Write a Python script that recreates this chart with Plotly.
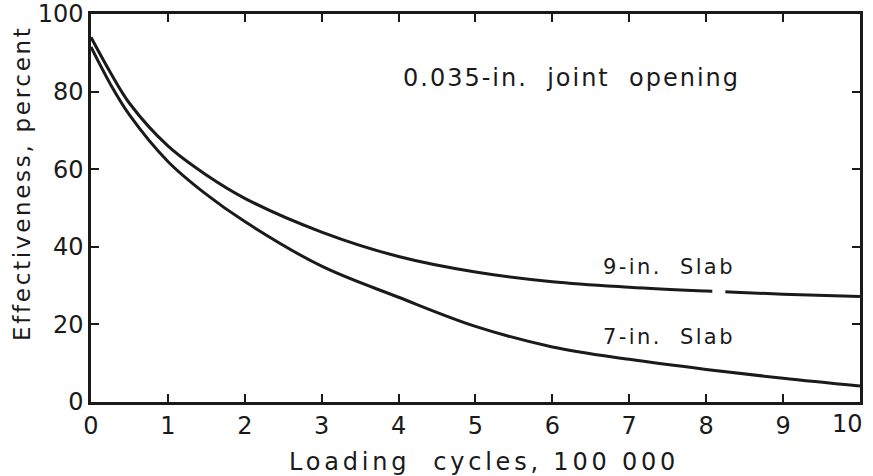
import plotly.graph_objects as go

# Loading cycles (units of 100 000) and effectiveness (percent)
cycles = [0, 0.25, 0.5, 1, 1.5, 2, 3, 4, 5, 6, 7, 8, 9, 10]
slab_9in = [94, 85, 77, 66, 58.5, 52.5, 43.8, 37.5, 33.5, 31, 29.6, 28.6, 27.8, 27.2]
slab_7in = [91.5, 82, 74, 62, 53.5, 46.5, 35, 27, 19.5, 14.2, 11.0, 8.4, 6.1, 4.1]

x_ticks = list(range(0, 11))
y_ticks = [0, 20, 40, 60, 80, 100]

# small break drawn in the 9-in. curve
break_x = [8.08, 8.25]

FONT = "DejaVu Sans"
INK = "#1a1a1a"


def spaced(text, px):
    return f'<span style="letter-spacing:{px}px">{text}</span>'


# the last x label is placed separately, nudged left to stay on the page
x_labels = [str(v) for v in x_ticks]
last_label = x_labels[-1]
x_labels[-1] = ""

fig = go.Figure()
for ys in (slab_9in, slab_7in):
    fig.add_trace(go.Scatter(
        x=cycles, y=ys, mode="lines",
        line=dict(color=INK, width=3, shape="spline", smoothing=1.0),
        showlegend=False, hoverinfo="skip",
    ))

fig.add_shape(type="rect", x0=break_x[0], x1=break_x[1], y0=25, y1=32,
              fillcolor="white", line=dict(width=0), layer="above")

axis_common = dict(
    showgrid=False, zeroline=False, showline=True, linecolor=INK, linewidth=2.5,
    mirror="ticks", ticks="inside", ticklen=8, tickwidth=2, tickcolor=INK,
    tickfont=dict(family=FONT, size=24, color=INK), ticklabeloverflow="allow",
    automargin=False,
)

fig.update_xaxes(range=[0, 10.001], tickvals=x_ticks, ticktext=x_labels, **axis_common)
fig.update_yaxes(range=[0, 100.01], tickvals=y_ticks, ticktext=[str(v) for v in y_ticks], **axis_common)

fig.add_annotation(
    text=last_label, x=x_ticks[-1], xref="x", y=0, yref="paper",
    xanchor="center", yanchor="top", xshift=-12, yshift=-6, showarrow=False,
    font=dict(family=FONT, size=24, color=INK),
)

annotations = [
    dict(text="0.035-in.  joint  opening", x=571, y=78, size=24, sp=2),
    dict(text="9-in.  Slab", x=669, y=267, size=21, sp=2.4),
    dict(text="7-in.  Slab", x=669, y=337, size=21, sp=2.4),
    dict(text="Loading  cycles, 100 000", x=484, y=462, size=24, sp=3.8),
]
for a in annotations:
    fig.add_annotation(
        text=spaced(a["text"], a["sp"]), xref="paper", yref="paper",
        x=(a["x"] - 91) / (860 - 91), y=(402 - a["y"]) / (402 - 14),
        xanchor="center", yanchor="middle", showarrow=False,
        font=dict(family=FONT, size=a["size"], color=INK),
    )

fig.add_annotation(
    text=spaced("Effectiveness, percent", 2.7), xref="paper", yref="paper",
    x=(22 - 91) / (860 - 91), y=(402 - 183) / (402 - 14),
    xanchor="center", yanchor="middle", textangle=-90, showarrow=False,
    font=dict(family=FONT, size=23, color=INK),
)

fig.update_layout(
    width=873, height=476,
    margin=dict(l=91, r=13, t=14, b=74, autoexpand=False),
    paper_bgcolor="white", plot_bgcolor="white",
)

fig.write_html("out.html")
